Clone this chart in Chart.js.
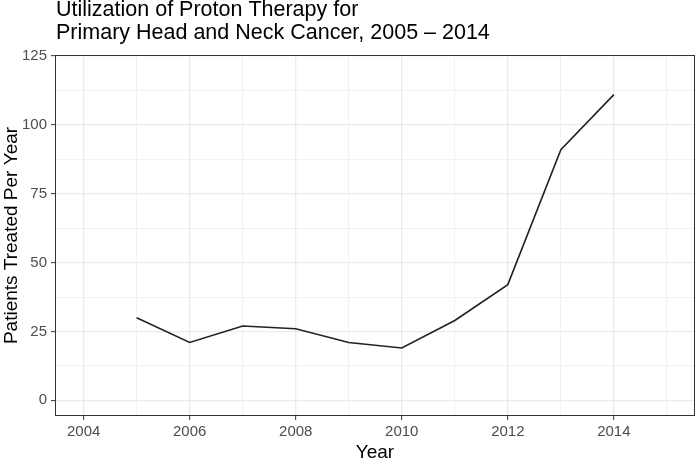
<!DOCTYPE html>
<html>
<head>
<meta charset="utf-8">
<script src="https://cdn.jsdelivr.net/npm/chart.js@4/dist/chart.umd.min.js"></script>
<style>
  html, body { margin: 0; padding: 0; background: #fff; }
  #wrap { width: 696px; height: 458px; }
</style>
</head>
<body>
<div id="wrap"><canvas id="chart"></canvas></div>
<script>
// ── data ──
var years    = [2005, 2006, 2007, 2008, 2009, 2010, 2011, 2012, 2013, 2014];
var patients = [30, 21, 27, 26, 21, 19, 29, 42, 91, 111];
var xTicks   = [2004, 2005, 2006, 2007, 2008, 2009, 2010, 2011, 2012, 2013, 2014, 2015];
var yTicks   = [0, 12.5, 25, 37.5, 50, 62.5, 75, 87.5, 100, 112.5, 125];
var titleLines = ["Utilization of Proton Therapy for", "Primary Head and Neck Cancer, 2005 \u2013 2014"];

var FONT = "'Liberation Sans', Arial, Helvetica, sans-serif";

function isMajorX(v) { return v % 2 === 0; }
function isMajorY(v) { return v % 25 === 0; }

// panel border (theme_bw) + left-aligned title
var panelPlugin = {
  id: "panel",
  afterDraw: function(chart) {
    var a = chart.chartArea, ctx = chart.ctx;
    ctx.save();
    ctx.strokeStyle = "#333333";
    ctx.lineWidth = 1;
    ctx.strokeRect(Math.round(a.left) + 0.5, Math.round(a.top) + 0.5,
                   Math.round(a.right - a.left) - 1, Math.round(a.bottom - a.top) - 1);
    ctx.fillStyle = "#000";
    ctx.font = "21.5px " + FONT;
    ctx.textAlign = "left";
    ctx.textBaseline = "alphabetic";
    ctx.fillText(titleLines[0], a.left + 1, 16);
    ctx.fillText(titleLines[1], a.left + 1, 39);
    ctx.restore();
  }
};

new Chart(document.getElementById("chart"), {
  type: "line",
  data: {
    datasets: [{
      data: years.map(function(y, i) { return { x: y, y: patients[i] }; }),
      borderColor: "#222222",
      borderWidth: 1.6,
      pointRadius: 0,
      tension: 0,
      fill: false
    }]
  },
  options: {
    responsive: true,
    maintainAspectRatio: false,
    animation: false,
    layout: { padding: { top: 55, right: 1, left: 0, bottom: 0 } },
    plugins: { legend: { display: false }, tooltip: { enabled: false }, title: { display: false } },
    scales: {
      x: {
        type: "linear",
        min: 2003.46,
        max: 2015.53,
        afterBuildTicks: function(scale) {
          scale.ticks = xTicks.map(function(v) { return { value: v }; });
        },
        afterFit: function(scale) { scale.height = 42; },
        ticks: {
          autoSkip: false,
          maxRotation: 0,
          padding: 3,
          color: "#4d4d4d",
          font: { family: FONT, size: 15 },
          callback: function(v) { return isMajorX(v) ? String(v) : ""; }
        },
        grid: {
          color: "#ebebeb",
          lineWidth: function(c) { return c.tick && isMajorX(c.tick.value) ? 1.3 : 0.7; },
          tickColor: function(c) { return c.tick && isMajorX(c.tick.value) ? "#333333" : "rgba(0,0,0,0)"; },
          tickLength: 4,
          tickWidth: 1
        },
        border: { display: false },
        title: {
          display: true,
          text: "Year",
          color: "#000",
          font: { family: FONT, size: 19 },
          padding: { top: 0, bottom: -6 }
        }
      },
      y: {
        type: "linear",
        min: -5.7,
        max: 125.4,
        afterBuildTicks: function(scale) {
          scale.ticks = yTicks.map(function(v) { return { value: v }; });
        },
        afterFit: function(scale) { scale.width = 55; },
        ticks: {
          autoSkip: false,
          padding: 4,
          color: "#4d4d4d",
          font: { family: FONT, size: 15 },
          callback: function(v) { return isMajorY(v) ? String(v) : ""; }
        },
        grid: {
          color: "#ebebeb",
          lineWidth: function(c) { return c.tick && isMajorY(c.tick.value) ? 1.3 : 0.7; },
          tickColor: function(c) { return c.tick && isMajorY(c.tick.value) ? "#333333" : "rgba(0,0,0,0)"; },
          tickLength: 4,
          tickWidth: 1
        },
        border: { display: false },
        title: {
          display: true,
          text: "Patients Treated Per Year",
          color: "#000",
          font: { family: FONT, size: 19 },
          padding: { top: 0, bottom: 0 }
        }
      }
    }
  },
  plugins: [panelPlugin]
});
</script>
</body>
</html>
